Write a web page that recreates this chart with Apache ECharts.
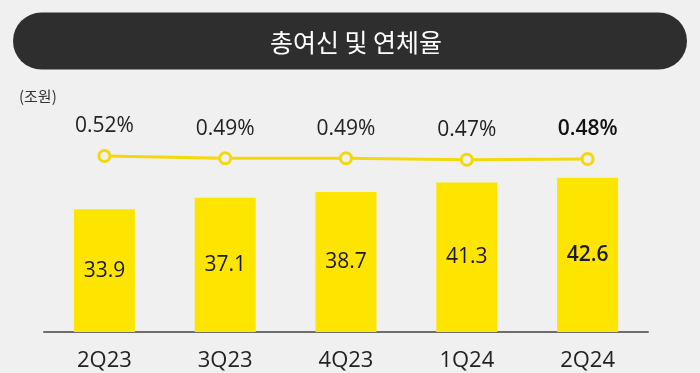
<!DOCTYPE html>
<html>
<head>
<meta charset="utf-8">
<script src="https://cdn.jsdelivr.net/npm/echarts@6/dist/echarts.min.js"></script>
<style>
html,body{margin:0;padding:0;background:#f0f0f0;}
#chart{width:700px;height:373px;}
</style>
</head>
<body>
<div id="chart"></div>
<script>
const categories = ['2Q23', '3Q23', '4Q23', '1Q24', '2Q24'];
const loanValues = [33.9, 37.1, 38.7, 41.3, 42.6];
const delinquencyRates = [0.52, 0.49, 0.49, 0.47, 0.48];
const titleText = '총여신 및 연체율';
const unitText = '(조원)';

const numFont = '"Open Sans", Roboto, sans-serif';
const lastIdx = categories.length - 1;

const chart = echarts.init(document.getElementById('chart'), null, {renderer: 'canvas'});
chart.setOption({
  backgroundColor: '#f0f0f0',
  animation: false,
  graphic: [
    {
      type: 'rect',
      shape: {x: 13, y: 12.5, width: 674, height: 57, r: 28.5},
      style: {fill: '#2e2e2e'}
    },
    {
      type: 'text',
      x: 356, y: 42,
      style: {
        text: titleText, fill: '#ffffff', font: '25px "Noto Sans CJK KR"',
        textAlign: 'center', textVerticalAlign: 'middle'
      }
    },
    {
      type: 'text',
      x: 19, y: 96,
      style: {
        text: unitText, fill: '#333333', font: '15px "Noto Sans CJK KR"',
        textAlign: 'left', textVerticalAlign: 'middle'
      }
    }
  ],
  grid: [
    {left: 44, right: 52, top: 151, bottom: 41},
    {left: 44, right: 52, top: 150, height: 15}
  ],
  xAxis: [
    {
      type: 'category', gridIndex: 0, data: categories,
      axisTick: {show: false},
      axisLine: {lineStyle: {color: '#6e6e6e', width: 2}},
      axisLabel: {color: '#222222', fontSize: 22, fontFamily: numFont, margin: 18}
    },
    {
      type: 'category', gridIndex: 1, data: categories, show: false
    }
  ],
  yAxis: [
    {type: 'value', gridIndex: 0, min: 0, max: 50, show: false, splitLine: {show: false}},
    {type: 'value', gridIndex: 1, min: 0.4, max: 0.6, show: false, splitLine: {show: false}}
  ],
  series: [
    {
      type: 'bar', xAxisIndex: 0, yAxisIndex: 0,
      barWidth: 61,
      itemStyle: {color: '#FEE500'},
      label: {
        show: true, position: 'inside', color: '#1a1a1a',
        fontSize: 21, fontFamily: numFont,
        formatter: p => p.value.toFixed(1)
      },
      data: loanValues.map((v, i) => i === lastIdx
        ? {value: v, label: {fontWeight: 600}}
        : v)
    },
    {
      type: 'line', xAxisIndex: 1, yAxisIndex: 1,
      symbol: 'circle', symbolSize: 11,
      lineStyle: {color: '#F3D80C', width: 3},
      itemStyle: {color: '#f0f0f0', borderColor: '#F3D80C', borderWidth: 3},
      label: {
        show: true, position: 'top', distance: 12, color: '#222222',
        fontSize: 21, fontFamily: numFont,
        formatter: p => p.value.toFixed(2) + '%'
      },
      data: delinquencyRates.map((v, i) => i === lastIdx
        ? {value: v, label: {fontWeight: 600, color: '#111111'}}
        : v)
    }
  ]
});
</script>
</body>
</html>
